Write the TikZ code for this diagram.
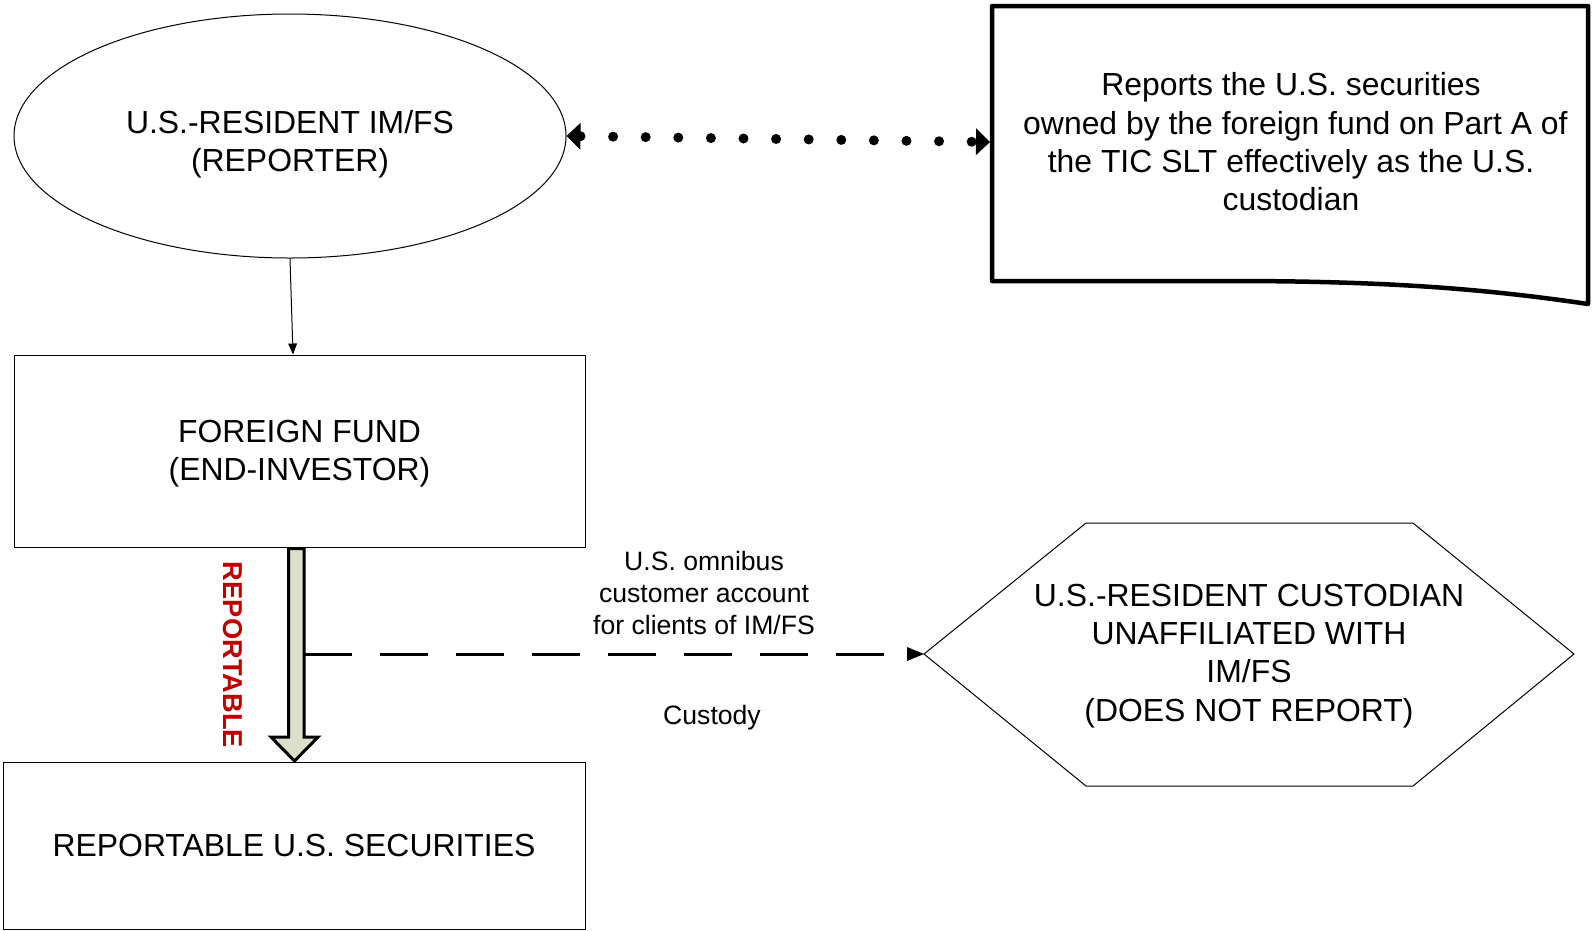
\documentclass[tikz,border=0pt]{standalone}
\usepackage{fontspec}
\setmainfont{Liberation Sans}
\usetikzlibrary{shapes.geometric,arrows.meta}
\definecolor{arrowfill}{HTML}{DCE0CB}
\definecolor{repred}{HTML}{C00000}
\tikzset{
  bigtext/.style={font=\fontsize{31.9}{38.3}\selectfont, align=center, inner sep=0pt},
  smalltext/.style={font=\fontsize{26.6}{32}\selectfont, align=center, inner sep=0pt},
  thinbox/.style={draw, line width=1pt, inner sep=0pt},
  thinline/.style={line width=1pt},
  docline/.style={line width=4.5pt, line join=round},
  fatarrow/.style={draw, line width=3pt, fill=arrowfill, line join=miter},
  dotconn/.style={line width=10pt, line cap=round, dash pattern=on 0pt off 32.6pt,
    {Triangle[length=14pt,width=27pt,line width=0pt]}-{Triangle[length=14pt,width=27pt,line width=0pt]}},
  dashconn/.style={line width=3pt, dash pattern=on 48pt off 28pt,
    -{Triangle[length=17pt,width=14pt,line width=0pt]}},
  smallconn/.style={line width=1pt, -{Triangle[length=11pt,width=9pt,line width=0pt]}},
  vertlabel/.style={font=\fontsize{27.3}{30}\selectfont\bfseries, text=repred, rotate=-90, inner sep=0pt}
}
\begin{document}
\begin{tikzpicture}[x=1pt,y=-1pt]
\useasboundingbox (0,0) rectangle (1592,930);

% ellipse (reporter)
\node[thinbox, ellipse, minimum width=552pt, minimum height=244pt] (ell) at (290,136) {};
\node[bigtext] (ellTxt) at (290,144) {U.S.-RESIDENT IM/FS\\(REPORTER)};

% foreign fund
\node[thinbox, minimum width=571pt, minimum height=192pt] (ff) at (299.5,451) {};
\node[bigtext] (ffTxt) at (299.5,454) {FOREIGN FUND\\(END-INVESTOR)};

% reportable securities
\node[thinbox, bigtext, minimum width=582pt, minimum height=167pt] (rs) at (294,845.5) {REPORTABLE U.S. SECURITIES};

% document box
\draw[docline] (992,6) -- (1588,6) -- (1588,304)
  .. controls (1480,288) and (1380,281) .. (1230,281) -- (992,281) -- cycle;
\node[bigtext] (doc) at (1291,142) {Reports the U.S. securities\\\hspace*{8.9pt}owned by the foreign fund on Part A of\\the TIC SLT effectively as the U.S.\\custodian};
\coordinate (docW) at (990,142);

% hexagon
\draw[thinline] (924,654) -- (1086,523) -- (1413,523) -- (1574,654) -- (1413,786) -- (1086,786) -- cycle;
\node[bigtext] (hex) at (1249,656) {U.S.-RESIDENT CUSTODIAN\\UNAFFILIATED WITH\\IM/FS\\(DOES NOT REPORT)};
\coordinate (hexW) at (924,654);

% fat arrow
\draw[fatarrow] (288.5,548.5) -- (304,548.5) -- (304,737) -- (318,737) -- (294.5,761)
  -- (271,737) -- (288.5,737) -- cycle;
\coordinate (shaftE) at (304,654);
\node[vertlabel] (rep) at (233,655) {REPORTABLE};

% connectors
\draw[smallconn] (ell.south) -- ([xshift=-6.5pt]ff.north);
\draw[dotconn] (ell.east) -- (docW);
\draw[dashconn] (shaftE) -- (hexW);

% labels
\node[smalltext] (lblTop) at (704,592.5) {U.S. omnibus\\customer account\\for clients of IM/FS};
\node[smalltext] (lblCust) at (712,717.7) {Custody};
\end{tikzpicture}
\end{document}
